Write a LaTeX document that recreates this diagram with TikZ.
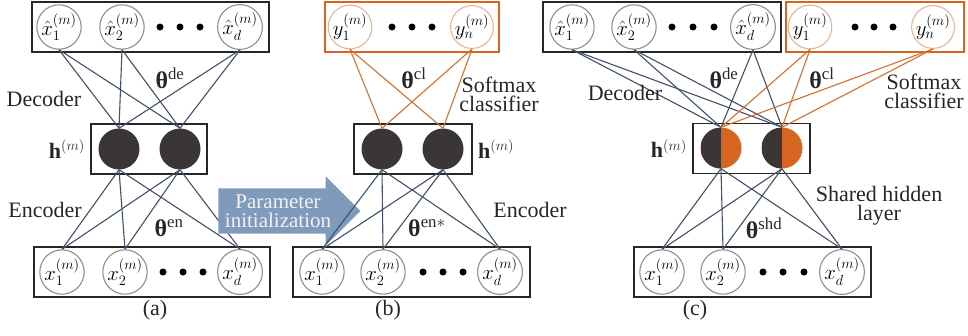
\documentclass[tikz,border=0pt]{standalone}
\usepackage{fontspec}
\setmainfont{Liberation Serif}
\usepackage{amsmath,amssymb}
\usetikzlibrary{shapes.arrows}
\usetikzlibrary{positioning}

\definecolor{hiddark}{HTML}{3A3536}
\definecolor{clsorange}{HTML}{D5651F}
\definecolor{clsline}{HTML}{DA6E2C}
\definecolor{clsrim}{HTML}{E8B593}
\definecolor{unitrim}{HTML}{8E8E8E}
\definecolor{wline}{HTML}{41506A}
\definecolor{arrowblue}{HTML}{7F9ABB}

\tikzset{
    unit/.style={circle, draw=unitrim, line width=1.1pt, minimum size=42pt, inner sep=0pt, font=\fontsize{21}{21}\selectfont},
    clsunit/.style={unit, draw=clsrim},
    hidunit/.style={circle, fill=hiddark, minimum size=41pt, inner sep=0pt},
    sharedunit/.style={hidunit, fill=clsorange, path picture={\fill[hiddark] (path picture bounding box.south west) rectangle (path picture bounding box.north);}},
    layerbox/.style={draw=black!85, line width=1.3pt, minimum height=50pt, inner sep=0pt},
    clsbox/.style={layerbox, draw=clsorange},
    weight/.style={draw=wline, line width=1.1pt},
    clsweight/.style={draw=clsline, line width=1.1pt},
    lbl/.style={font=\fontsize{22}{19}\selectfont, text=black!85, align=center},
    param/.style={font=\fontsize{24}{24}\selectfont, text=black!85}
}

\begin{document}
\begin{tikzpicture}[x=1pt, y=-1pt]
        \useasboundingbox (0,0) rectangle (968,335);

        % (a) autoencoder
        \node[layerbox, minimum width=237pt] (atop) at (150.5,27) {};
        \node[layerbox, minimum width=116pt] (ahid) at (149,149) {};
        \node[layerbox, minimum width=236pt] (abot) at (152,272) {};
        \node[unit] (ahat1) at (59,27) {$\hat{x}_1^{(m)}$};
        \node[unit] (ahat2) at (122,27) {$\hat{x}_2^{(m)}$};
        \node[unit] (ahatd) at (240,27) {$\hat{x}_d^{(m)}$};
        \node[hidunit] (ah1) at (119,149) {};
        \node[hidunit] (ah2) at (180,149) {};
        \node[unit] (ax1) at (62,272) {$x_1^{(m)}$};
        \node[unit] (ax2) at (125,272) {$x_2^{(m)}$};
        \node[unit] (axd) at (240,272) {$x_d^{(m)}$};
        \foreach \d in {160,180,200} \fill (\d,27) circle (3.5pt);
        \foreach \d in {163,183,203} \fill (\d,272) circle (3.5pt);
        \foreach \s in {ahat1,ahat2,ahatd}
            \foreach \t in {ah1,ah2} \draw[weight] (\s.south) -- (\t.north);
        \foreach \s in {ax1,ax2,axd}
            \foreach \t in {ah1,ah2} \draw[weight] (\t.south) -- (\s.north);
        \node[lbl] (adec) at (44,99) {Decoder};
        \node[lbl] (aenc) at (45,210) {Encoder};
        \node[param] (athde) at (170,78) {\textbf{θ}$^{\text{de}}$};
        \node[param] (athen) at (169,228) {\textbf{θ}$^{\text{en}}$};
        \node[lbl, left=2pt of ahid] (ahlbl) {\textbf{h}$^{(m)}$};
        \node[lbl] (acap) at (155,310) {(a)};

        % transfer arrow
        \node[single arrow, fill=arrowblue, font=\fontsize{21}{19}\selectfont, align=center,
              text=white!88!arrowblue, minimum height=142pt, single arrow head extend=12pt,
              inner xsep=2pt, inner ysep=6pt] (initarrow) at (278,211) {Parameter\\initialization};

        % (b) classifier
        \node[clsbox, minimum width=174pt] (btop) at (412,27) {};
        \node[layerbox, minimum width=118pt] (bhid) at (413,149) {};
        \node[layerbox, minimum width=237pt] (bbot) at (411.5,272) {};
        \node[clsunit] (by1) at (350,27) {$y_1^{(m)}$};
        \node[clsunit] (byn) at (472,27) {$y_n^{(m)}$};
        \node[hidunit] (bh1) at (382,149) {};
        \node[hidunit] (bh2) at (443,149) {};
        \node[unit] (bx1) at (322,272) {$x_1^{(m)}$};
        \node[unit] (bx2) at (383,272) {$x_2^{(m)}$};
        \node[unit] (bxd) at (500,272) {$x_d^{(m)}$};
        \foreach \d in {392,412,432} \fill (\d,27) circle (3.5pt);
        \foreach \d in {423,443,463} \fill (\d,272) circle (3.5pt);
        \foreach \s in {by1,byn}
            \foreach \t in {bh1,bh2} \draw[clsweight] (\s.south) -- (\t.north);
        \foreach \s in {bx1,bx2,bxd}
            \foreach \t in {bh1,bh2} \draw[weight] (\t.south) -- (\s.north);
        \node[param] (bthcl) at (414,78) {\textbf{θ}$^{\text{cl}}$};
        \node[param] (bthen) at (427,228) {\textbf{θ}$^{\text{en}*}$};
        \node[lbl] (bsoft) at (499,94) {Softmax\\classifier};
        \node[lbl] (benc) at (530,210) {Encoder};
        \node[lbl, right=2pt of bhid] (bhlbl) {\textbf{h}$^{(m)}$};
        \node[lbl] (bcap) at (388,310) {(b)};

        % (c) joint model
        \node[layerbox, minimum width=238pt] (ctop) at (662,27) {};
        \node[clsbox, minimum width=178pt] (ccls) at (875,27) {};
        \node[layerbox, minimum width=117pt] (chid) at (751.5,148.5) {};
        \node[layerbox, minimum width=237pt] (cbot) at (752.5,272) {};
        \node[unit] (chat1) at (572,27) {$\hat{x}_1^{(m)}$};
        \node[unit] (chat2) at (634,27) {$\hat{x}_2^{(m)}$};
        \node[unit] (chatd) at (753,27) {$\hat{x}_d^{(m)}$};
        \node[clsunit] (cy1) at (810,27) {$y_1^{(m)}$};
        \node[clsunit] (cyn) at (933,27) {$y_n^{(m)}$};
        \node[sharedunit] (ch1) at (721,148) {};
        \node[sharedunit] (ch2) at (782,148) {};
        \node[unit] (cx1) at (662,272) {$x_1^{(m)}$};
        \node[unit] (cx2) at (723,272) {$x_2^{(m)}$};
        \node[unit] (cxd) at (842,272) {$x_d^{(m)}$};
        \foreach \d in {672,693,714,855,874,893} \fill (\d,27) circle (3.5pt);
        \foreach \d in {763,783,804} \fill (\d,272) circle (3.5pt);
        \foreach \s in {chat1,chat2,chatd}
            \foreach \t in {ch1,ch2} \draw[weight] (\s.south) -- (\t.north);
        \foreach \s in {cy1,cyn}
            \foreach \t in {ch1,ch2} \draw[clsweight] (\s.south) -- (\t.north);
        \foreach \s in {cx1,cx2,cxd}
            \foreach \t in {ch1,ch2} \draw[weight] (\t.south) -- (\s.north);
        \node[lbl] (cdec) at (625,93) {Decoder};
        \node[param] (cthde) at (724,78) {\textbf{θ}$^{\text{de}}$};
        \node[param] (cthcl) at (822,78) {\textbf{θ}$^{\text{cl}}$};
        \node[lbl] (csoft) at (924,91) {Softmax\\classifier};
        \node[param] (cthshd) at (764,228) {\textbf{θ}$^{\text{shd}}$};
        \node[lbl] (cshared) at (879,206) {Shared hidden\\layer};
        \node[lbl, left=2pt of chid] (chlbl) {\textbf{h}$^{(m)}$};
        \node[lbl] (ccap) at (695,310) {(c)};
\end{tikzpicture}
\end{document}
